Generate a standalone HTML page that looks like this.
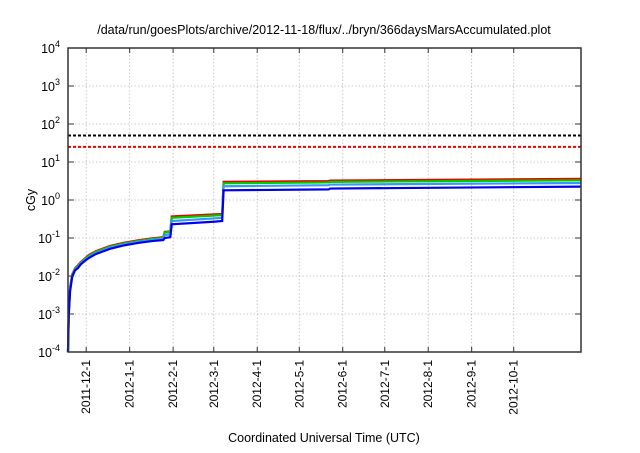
<!DOCTYPE html>
<html><head><meta charset="utf-8"><style>
body{margin:0;background:#fff;width:640px;height:448px;overflow:hidden}
svg{font-family:"Liberation Sans",sans-serif}
</style></head><body>
<svg width="640" height="448">
<text x="324" y="34" text-anchor="middle" font-size="12.5">/data/run/goesPlots/archive/2012-11-18/flux/../bryn/366daysMarsAccumulated.plot</text>
<text transform="translate(35,200) rotate(-90)" text-anchor="middle" font-size="12.5">cGy</text>
<text x="324" y="442" text-anchor="middle" font-size="12.5">Coordinated Universal Time (UTC)</text>
<g id="grid"></g><g id="series"></g><g id="axes"></g>
</svg>
<script>
const xTickLabels=["2011-12-1","2012-1-1","2012-2-1","2012-3-1","2012-4-1","2012-5-1","2012-6-1","2012-7-1","2012-8-1","2012-9-1","2012-10-1"];
const xTickDays=[13,44,75,104,135,165,196,226,257,288,318];
const yTickExp=[-4,-3,-2,-1,0,1,2,3,4];
const days=[0,0.5,1.5,3,5,7,9,12,15,20,30,40,50,60,68,69,73,74,105,110,111,186,187,366];
const redVals=[0.0001,0.001,0.005,0.011,0.016,0.019,0.023,0.029,0.036,0.045,0.062,0.075,0.087,0.098,0.105,0.145,0.15,0.37,0.42,0.43,3.0,3.15,3.25,3.6];
const greenVals=[0.0001,0.001,0.005,0.0105,0.0155,0.018,0.022,0.028,0.034,0.043,0.059,0.072,0.083,0.094,0.1,0.14,0.145,0.34,0.39,0.4,2.75,2.9,3.0,3.3];
const lightBlueVals=[0.0001,0.001,0.0045,0.01,0.0145,0.017,0.021,0.026,0.032,0.04,0.056,0.068,0.079,0.089,0.095,0.12,0.125,0.28,0.33,0.34,2.3,2.45,2.55,2.8];
const blueVals=[0.0001,0.0009,0.004,0.0095,0.014,0.016,0.02,0.025,0.03,0.038,0.052,0.064,0.074,0.083,0.088,0.1,0.105,0.23,0.27,0.28,1.8,1.9,2.0,2.25];
const refLevels=[50,25];
const refColors=["#000","#e00"];
const X0=68,X1=581,Y0=48,Y1=352,D=366;
const xs=d=>X0+d/D*(X1-X0);
const ys=v=>Y0+(4-Math.log10(v))/8*(Y1-Y0);
const NS="http://www.w3.org/2000/svg";
function mk(t,a,p){const e=document.createElementNS(NS,t);for(const k in a)e.setAttribute(k,a[k]);p.appendChild(e);return e;}
const grid=document.getElementById('grid'),ser=document.getElementById('series'),ax=document.getElementById('axes');
xTickDays.forEach((d,i)=>{const x=xs(d);
 const g=mk('line',{x1:x,x2:x,y1:Y0,y2:Y1,stroke:'#bbb','stroke-dasharray':'1.5,2','stroke-width':0.8},grid);
 
 const t1=mk('line',{x1:x,x2:x,y1:Y1,y2:Y1-5,stroke:'#333'},ax);
 const t2=mk('line',{x1:x,x2:x,y1:Y0,y2:Y0+5,stroke:'#333'},ax);
 const tx=mk('text',{transform:`translate(${x+4},${Y1+8}) rotate(-90)`,'text-anchor':'end','font-size':12},ax);tx.textContent=xTickLabels[i];
 });
yTickExp.forEach(e=>{const y=ys(Math.pow(10,e));
 if(e>-4&&e<4){const g=mk('line',{x1:X0,x2:X1,y1:y,y2:y,stroke:'#bbb','stroke-dasharray':'1.5,2','stroke-width':0.8},grid);}
 const t1=mk('line',{x1:X0,x2:X0+6,y1:y,y2:y,stroke:'#333'},ax);
 const t2=mk('line',{x1:X1,x2:X1-6,y1:y,y2:y,stroke:'#333'},ax);
 const tx=mk('text',{x:X0-8,y:y+5,'text-anchor':'end','font-size':12.5},ax);
 tx.appendChild(document.createTextNode('10'));const s=mk('tspan',{dy:-6,'font-size':9},tx);s.textContent=String(e);});
refLevels.forEach((v,i)=>{const l=mk('line',{x1:X0,x2:X1,y1:ys(v),y2:ys(v),stroke:refColors[i],'stroke-width':2,'stroke-dasharray':'3,2'},ser);
 });
const series=[[redVals,'#e00','series-red'],[greenVals,'#0c0','series-green'],[lightBlueVals,'#39f','series-light-blue'],[blueVals,'#00e','series-blue']];
series.forEach(([vals,c,n])=>{const p=mk('polyline',{points:days.map((d,i)=>xs(d)+','+ys(vals[i])).join(' '),fill:'none',stroke:c,'stroke-width':2.2},ser);
 });
const fr=mk('rect',{x:X0,y:Y0,width:X1-X0,height:Y1-Y0,fill:'none',stroke:'#333','stroke-width':1.5},ax);

</script>
</body></html>
